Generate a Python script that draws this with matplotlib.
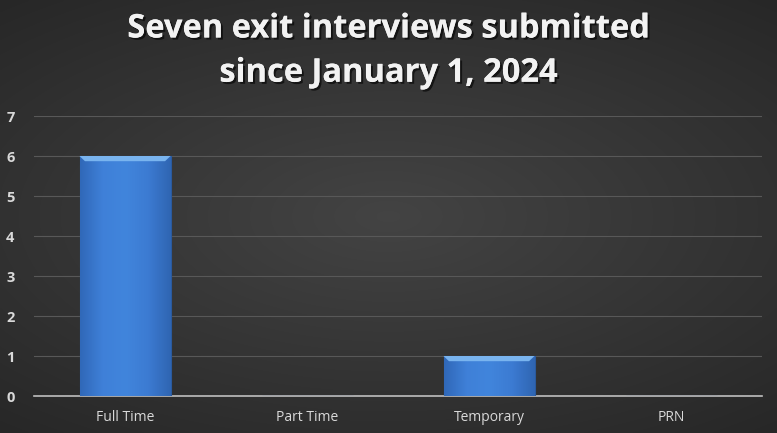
import matplotlib.pyplot as plt
import matplotlib.patheffects as pe
import numpy as np
from matplotlib.colors import LinearSegmentedColormap
from matplotlib.patches import Polygon

categories = ["Full Time", "Part Time", "Temporary", "PRN"]
counts = [6, 0, 1, 0]
title = "Seven exit interviews submitted\nsince January 1, 2024"

fig = plt.figure(figsize=(7.77, 4.33), dpi=100)

# dark radial background
bg = fig.add_axes([0, 0, 1, 1], zorder=0)
yy, xx = np.mgrid[-1:1:300j, -1:1:500j]
r = np.sqrt((xx * 0.85) ** 2 + (yy * 1.0) ** 2)
shade = np.clip(0.265 - 0.085 * r, 0.14, 0.3)
bg.imshow(np.dstack([shade] * 3), aspect="auto", extent=[0, 1, 0, 1],
          interpolation="bicubic")
bg.set_axis_off()

ax = fig.add_axes([34 / 777, (433 - 396) / 433, (762 - 34) / 777, (396 - 116) / 433],
                  zorder=1)
ax.patch.set_alpha(0)

x = np.arange(len(categories))
bars = ax.bar(x, counts, width=0.5, color="#3d7dd3", edgecolor="#2a5a9e",
              linewidth=0.8, zorder=3)

# horizontal shading inside each bar, and a light bevel along the top edge
grad = np.linspace(0, 1, 256).reshape(1, -1)
grad = np.vstack([grad, grad])
bar_cmap = LinearSegmentedColormap.from_list(
    "barshade", ["#3068b8", "#3f80d8", "#4185dc", "#3c7bd2", "#2f65b2"])
for b, v in zip(bars, counts):
    if v <= 0:
        continue
    x0, w = b.get_x(), b.get_width()
    im = ax.imshow(grad, cmap=bar_cmap, aspect="auto",
                   extent=[x0, x0 + w, 0, v], zorder=3.5)
    im.set_clip_path(b)
    inset = w * 0.06
    depth = 0.13
    ax.add_patch(Polygon([(x0, v), (x0 + w, v), (x0 + w - inset, v - depth),
                          (x0 + inset, v - depth)], closed=True,
                         facecolor="#79b4ef", edgecolor="none", zorder=4))

ax.set_xlim(-0.5, len(categories) - 0.5)
ax.set_ylim(0, 7)
ax.set_yticks(range(0, 8))
ax.set_xticks(x)
ax.set_xticklabels(categories)
ax.grid(axis="y", color="#585858", linewidth=0.8, zorder=1)
ax.set_axisbelow(True)
for side in ["top", "right", "left"]:
    ax.spines[side].set_visible(False)
ax.spines["bottom"].set_color("#bfbfbf")
ax.spines["bottom"].set_linewidth(1.2)
ax.tick_params(axis="both", length=0, colors="#d9d9d9")
ax.tick_params(axis="x", labelsize=10, pad=10)
ax.tick_params(axis="y", labelsize=10.5, pad=17)
for lbl in ax.get_yticklabels():
    lbl.set_fontweight("bold")
    lbl.set_horizontalalignment("center")
for lbl in ax.get_xticklabels() + ax.get_yticklabels():
    lbl.set_fontfamily("Open Sans")

fig.text(0.5, 0.882, title, ha="center", va="center", color="#f2f2f2",
         fontsize=23.5, fontweight="bold", family="Open Sans",
         linespacing=1.45,
         path_effects=[pe.withSimplePatchShadow(offset=(1.5, -1.5),
                                                shadow_rgbFace="black",
                                                alpha=0.6),
                       pe.Normal()])

fig.savefig("out.png", dpi=100)
